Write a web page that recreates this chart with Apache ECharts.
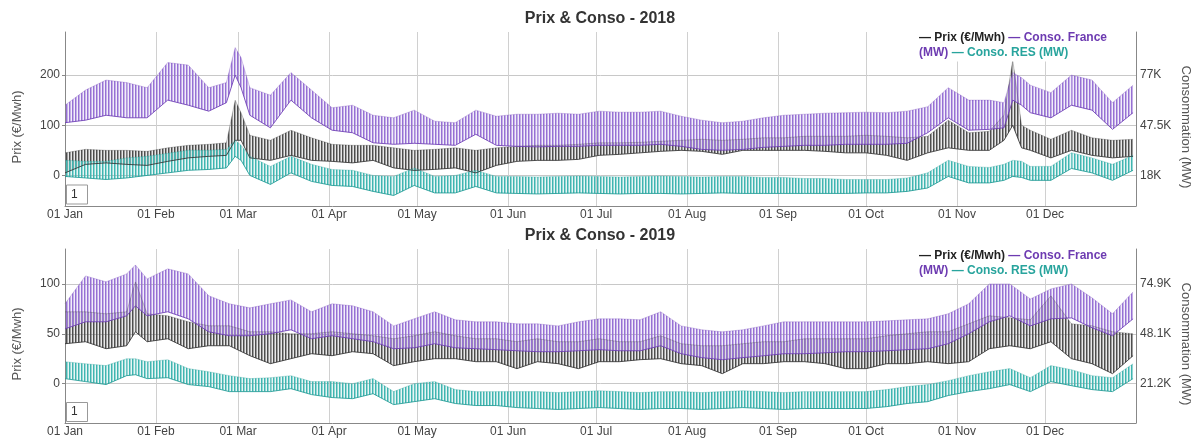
<!DOCTYPE html>
<html><head><meta charset="utf-8">
<script src="https://cdn.jsdelivr.net/npm/echarts@6/dist/echarts.min.js"></script>
<style>html,body{margin:0;padding:0;background:#fff}#c{width:1197px;height:444px}</style>
</head><body><div id="c"></div>
<script>
// ---------- DATA ----------
const monthLabels = ['01 Jan','01 Feb','01 Mar','01 Apr','01 May','01 Jun','01 Jul','01 Aug','01 Sep','01 Oct','01 Nov','01 Dec'];
// day of year on which each month starts (2018 and 2019 are not leap years)
const monthStartDays = [0,31,59,90,120,151,181,212,243,273,304,334];
const titles = ['Prix & Conso - 2018', 'Prix & Conso - 2019'];

// day of year of each sample (2018)
const days2018 = [0,7,14,21,28,35,42,49,55,58,60,63,70,77,84,91,98,105,112,119,126,133,140,147,154,161,168,175,182,189,196,203,210,217,224,231,238,245,252,259,266,273,280,287,294,301,308,315,320,323,326,329,336,343,350,357,364];
// Prix (€/MWh) daily range
const prixHigh2018 = [45,52,50,50,48,55,60,62,65,150,125,80,70,90,75,62,60,60,55,50,52,55,50,55,58,60,60,62,65,65,66,68,70,72,70,72,75,75,78,78,78,80,78,75,78,110,85,88,120,230,100,90,72,90,75,70,72];
const prixLow2018  = [5,22,25,22,20,28,35,38,40,70,70,35,30,40,30,28,25,30,15,10,12,15,5,20,28,30,30,32,40,42,45,48,50,48,42,50,50,50,50,48,45,45,40,30,45,55,50,50,70,100,55,50,35,50,40,35,38];
// Conso. France (MW)
const consoHigh2018 = [59300,68200,74100,72600,69600,84400,82900,69600,72600,93200,87300,69600,65200,78500,68200,57800,59300,53400,51900,56400,49900,49000,56400,52800,54000,54000,54600,54000,55800,55200,55200,55800,52800,50500,49000,49900,51900,53400,54000,54600,54900,55200,54900,55800,58400,69600,62300,62300,60800,78500,75500,71100,66700,77000,74100,60800,71100];
const consoLow2018  = [49000,50500,53400,51900,51900,62300,59300,55800,60800,77000,69600,53400,46000,62300,51900,44600,43100,37200,36300,36900,36300,35700,42200,35700,35100,34800,35100,35100,35700,35700,35700,36300,35100,33300,32800,33300,34500,35100,35700,35700,36300,36300,36300,36900,43100,51900,44600,45100,46000,62300,59300,54900,51900,59300,56400,45100,54900];
// Conso. RES (MW)
const resHigh2018 = [26900,26300,26300,28300,29200,31000,32800,32800,33300,38700,35700,29200,23300,29200,24500,21500,21000,18000,17400,22400,17400,18000,21000,17400,17400,17100,17400,17700,17400,17100,17400,17700,17400,17100,17400,17400,16800,16800,16200,16200,15600,15600,15600,16500,19500,26900,23300,22700,24500,26900,26300,23300,23300,31300,28300,24500,29800];
const resLow2018  = [17400,16500,15600,16500,18000,19500,21000,21500,22400,29200,26900,18000,12700,19500,14500,12100,11500,8600,6200,12100,7700,7700,11500,7700,7400,7100,7400,7700,7400,7100,7400,7400,7100,7400,7700,7400,7400,7400,7400,7400,7400,7700,7700,8600,10600,17400,13600,13600,15100,17400,16800,15100,15100,22100,19500,15100,21000];

// 2019
const days2019 = [0,7,14,21,24,28,35,42,49,56,63,70,77,84,91,98,105,112,119,126,133,140,147,154,161,168,175,182,189,196,203,210,217,224,231,238,245,252,259,266,273,280,287,294,301,308,315,322,329,336,343,350,357,364];
const prixHigh2019 = [72,72,70,72,102,70,68,62,58,58,52,52,50,50,52,50,48,45,48,52,48,45,45,42,45,42,42,45,42,42,48,40,38,38,40,42,42,45,45,45,45,48,50,52,52,60,68,66,64,88,60,58,52,50];
const prixLow2019  = [40,42,35,38,52,42,45,35,38,38,28,20,25,30,28,32,30,18,22,25,25,22,22,15,22,20,15,22,22,24,25,20,18,10,20,20,22,22,20,15,15,20,20,22,20,22,35,38,35,42,25,20,10,28];
const consoHigh2019 = [64200,79200,76000,80300,85100,77600,83000,80300,68500,64200,62000,64200,66300,59900,64200,63100,59900,52300,56100,59900,55600,54500,54500,53400,53400,52300,54500,56100,56100,55600,59900,52300,50200,49100,50200,52300,54500,54500,54500,54500,54500,55000,55600,56100,58800,64200,74900,74900,66800,72200,74900,67400,58800,70600];
const consoLow2019  = [50700,54500,54500,57700,63100,57700,59900,56100,49100,47000,47000,48100,50200,45400,47000,45400,43800,40000,40500,42700,40500,40000,39500,38900,38400,38400,38900,39500,38900,38900,41600,37300,35200,34100,35200,36200,37300,37300,37800,38400,38400,38900,39500,40000,42700,48100,54500,57700,52300,56100,56600,51300,47000,56100];
const resHigh2019 = [33000,31900,30900,34600,34600,33000,34100,29300,27600,25500,23900,24400,25500,22300,22300,21200,23900,16900,21200,22300,18000,16900,16900,16900,16900,16400,16900,17400,16900,16400,16900,16900,16400,16900,17400,16900,16400,16900,16900,16900,16900,18000,19600,20700,22800,25500,27600,29300,24400,30900,28700,25500,24400,31900];
const resLow2019  = [23900,22300,20700,25500,26000,23900,24400,20700,19600,16900,16900,16900,18500,15300,13700,13100,15800,9900,11500,13100,10500,9400,9400,8300,7800,7300,7800,8300,7800,7300,7800,7800,7300,7800,8300,7800,7300,7800,7800,7800,7800,8800,10500,11500,14800,16900,18500,20700,16900,22300,20100,18000,16900,23900];

// axis ticks
const leftTicks2018 = [0,100,200];
const rightTicks2018 = [18000,47500,77000];
const rightLabels2018 = ['18K','47.5K','77K'];
const leftTicks2019 = [0,50,100];
const rightTicks2019 = [21200,48050,74900];
const rightLabels2019 = ['21.2K','48.1K','74.9K'];

// ---------- CHART ----------
const FONT = '"Liberation Sans", Arial, Helvetica, sans-serif';
const chart = echarts.init(document.getElementById('c'), null, {renderer:'canvas'});
function hatch(color){
  const c = document.createElement('canvas');
  c.width = 3; c.height = 2;
  const g = c.getContext('2d');
  g.fillStyle = color;
  g.globalAlpha = 1.0; g.fillRect(0,0,1,2);
  g.globalAlpha = 0.55; g.fillRect(1,0,1,2);
  g.globalAlpha = 0.12; g.fillRect(2,0,1,2);
  return {image:c, repeat:'repeat'};
}
const COL = {
  prix:{edge:'#333333', fill:'#4d4d4d'},
  fr:{edge:'#6c3cb4', fill:'#9670d4'},
  res:{edge:'#1f9a94', fill:'#3fb5b0'}
};
// band between daily low and high: hatched polygons (custom series) + two edge lines
function band(xi, yi, days, low, high, col){
  const pat = hatch(col.fill);
  const segs = days.slice(0, -1).map((d,i)=>[d, low[i], high[i], days[i+1], low[i+1], high[i+1]]);
  const line = (vals, w, op)=>({type:'line', xAxisIndex:xi, yAxisIndex:yi, symbol:'none', silent:true,
    lineStyle:{color:col.edge, width:w, opacity:op}, data: days.map((d,i)=>[d, vals[i]])});
  return [
    {type:'custom', xAxisIndex:xi, yAxisIndex:yi, silent:true, data:segs,
      encode:{x:[0,3], y:[1,2,4,5]},
      renderItem:(params, api)=>{
        const a = api.coord([api.value(0), api.value(2)]);
        const b = api.coord([api.value(3), api.value(5)]);
        const c = api.coord([api.value(3), api.value(4)]);
        const d = api.coord([api.value(0), api.value(1)]);
        return {type:'polygon', shape:{points:[a,b,c,d]}, style:{fill:pat, stroke:null}};
      }},
    line(low, 1, 0.85), line(high, 0.6, 0.45)
  ];
}
const GRID_TOP = [32, 249], GRID_H = 174;
function xAxis(gi){
  return {type:'value', gridIndex:gi, min:0, max:365,
    axisLine:{show:true, onZero:false, lineStyle:{color:'#888', width:1}},
    axisTick:{show:false, customValues:monthStartDays},
    axisLabel:{customValues:monthStartDays, color:'#444', fontSize:12, fontFamily:FONT, margin:3,
      formatter:(v)=>{const i=monthStartDays.indexOf(v); return i>=0?monthLabels[i]:'';}},
    splitLine:{show:true, lineStyle:{color:'#d0d0d0', width:1}}};
}
function yLeft(gi, min, max, ticks){
  return {type:'value', gridIndex:gi, position:'left', min, max,
    axisLine:{show:true, lineStyle:{color:'#888'}},
    axisTick:{show:true, length:3, customValues:ticks, lineStyle:{color:'#888'}},
    axisLabel:{customValues:ticks, color:'#444', fontSize:12, fontFamily:FONT, margin:5},
    splitLine:{show:true, lineStyle:{color:'#c8c8c8', width:1}}};
}
function yRight(gi, min, max, ticks, labels){
  return {type:'value', gridIndex:gi, position:'right', min, max,
    axisLine:{show:true, lineStyle:{color:'#888'}},
    axisTick:{show:false, customValues:ticks},
    axisLabel:{customValues:ticks, color:'#444', fontSize:12, fontFamily:FONT, margin:4,
      formatter:(v)=>{const i=ticks.indexOf(v); return i>=0?labels[i]:'';}},
    splitLine:{show:false}};
}
function legendText(y){
  const rs = {fontWeight:'bold', fontSize:12, fontFamily:FONT, lineHeight:15};
  return {type:'text', x:918, y:y, z:100,
    style:{text:'{k|— Prix (€/Mwh)} {p|— Conso. France}\n{p|(MW)} {t|— Conso. RES (MW)}',
      font:'bold 12px '+FONT, fill:'#222', textVerticalAlign:'top', textAlign:'left',
      backgroundColor:'#fff', padding:[1,1,1,1],
      rich:{k:Object.assign({fill:'#222'},rs), p:Object.assign({fill:'#6d3bb1'},rs), t:Object.assign({fill:'#28a49d'},rs)}}};
}
function roller(y){
  return [{type:'rect', shape:{x:66.5, y:y, width:21, height:19}, z:100,
      style:{fill:'#fff', stroke:'#999', lineWidth:1}},
    {type:'text', x:71, y:y+9.5, z:101, style:{text:'1', font:'12px '+FONT, fill:'#333', textVerticalAlign:'middle'}}];
}
function axisName(x, y, text, rot){
  return {type:'text', x:x, y:y, rotation:rot, z:100,
    style:{text:text, font:'13px '+FONT, fill:'#555', textAlign:'center', textVerticalAlign:'middle'}};
}

const option = {
  animation:false,
  backgroundColor:'#fff',
  grid:[
    {left:65, top:GRID_TOP[0], width:1071, height:GRID_H, containLabel:false},
    {left:65, top:GRID_TOP[1], width:1071, height:GRID_H, containLabel:false}
  ],
  xAxis:[xAxis(0), xAxis(1)],
  yAxis:[
    yLeft(0,-61,286,leftTicks2018), yRight(0,5,102370,rightTicks2018,rightLabels2018),
    yLeft(1,-39.5,135,leftTicks2019), yRight(1,0,93700,rightTicks2019,rightLabels2019)
  ],
  series:[].concat(
    band(0,0,days2018,prixLow2018,prixHigh2018,COL.prix),
    band(0,1,days2018,consoLow2018,consoHigh2018,COL.fr),
    band(0,1,days2018,resLow2018,resHigh2018,COL.res),
    band(1,2,days2019,prixLow2019,prixHigh2019,COL.prix),
    band(1,3,days2019,consoLow2019,consoHigh2019,COL.fr),
    band(1,3,days2019,resLow2019,resHigh2019,COL.res)
  ),
  graphic:[].concat(
    [{type:'text', x:600, y:19, style:{text:titles[0], font:'bold 16px '+FONT, fill:'#333', textAlign:'center', textVerticalAlign:'middle'}},
     {type:'text', x:600, y:236, style:{text:titles[1], font:'bold 16px '+FONT, fill:'#333', textAlign:'center', textVerticalAlign:'middle'}}],
    [legendText(29.5), legendText(246.8)],
    roller(185), roller(402.5),
    [axisName(17,127,'Prix (€/Mwh)',Math.PI/2), axisName(1186,127,'Consommation (MW)',-Math.PI/2),
     axisName(17,344,'Prix (€/Mwh)',Math.PI/2), axisName(1186,344,'Consommation (MW)',-Math.PI/2)]
  )
};
chart.setOption(option);
</script>
</body></html>
